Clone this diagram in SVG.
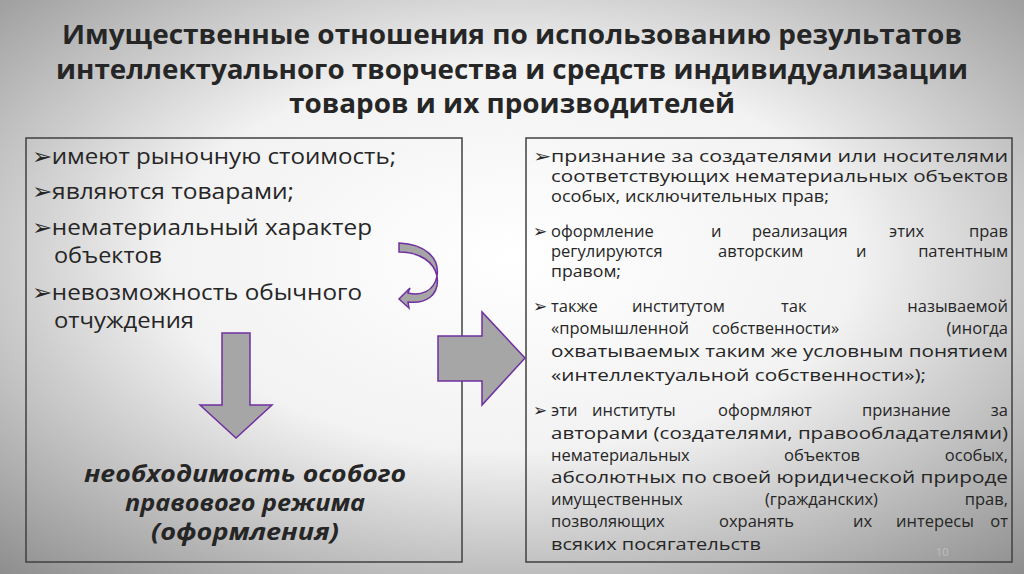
<svg xmlns="http://www.w3.org/2000/svg" width="1024" height="574" viewBox="0 0 1024 574">
<defs>
<radialGradient id="bg" cx="0.5" cy="0.45" r="0.75">
<stop offset="0" stop-color="#ffffff"/><stop offset="0.45" stop-color="#f2f2f2"/><stop offset="1" stop-color="#8c8c8c"/>
</radialGradient>
</defs>
<style>
.t{font-family:"Open Sans","Liberation Sans",sans-serif;font-weight:bold;font-size:27px;fill:#262626;text-anchor:middle}
.l{font-family:"Open Sans","Liberation Sans",sans-serif;font-size:22px;fill:#262626}
.r{font-family:"Open Sans","Liberation Sans",sans-serif;font-size:16.5px;fill:#262626}
.e{text-anchor:end}
.box{fill:none;stroke:#404040;stroke-width:1.5}
.ar{fill:#a6a6a6;stroke:#7030a0;stroke-width:1.5;stroke-linejoin:miter}
.b{font-family:"Open Sans","Liberation Sans",sans-serif;font-size:24px;font-weight:bold;font-style:italic;fill:#262626;text-anchor:middle}
</style>
<rect width="1024" height="574" fill="url(#bg)"/>
<g id="title">
<text class="t" x="512" y="44" textLength="900" lengthAdjust="spacingAndGlyphs">Имущественные отношения по  использованию результатов</text>
<text class="t" x="512" y="79" textLength="912" lengthAdjust="spacingAndGlyphs">интеллектуального творчества и средств индивидуализации</text>
<text class="t" x="512" y="113" textLength="446" lengthAdjust="spacingAndGlyphs">товаров и их производителей</text>
</g>
<g id="left">
<rect class="box" x="26" y="138" width="436" height="424"/>
<text class="l" x="32" y="164" textLength="364" lengthAdjust="spacingAndGlyphs">➢имеют рыночную стоимость;</text>
<text class="l" x="32" y="199" textLength="262" lengthAdjust="spacingAndGlyphs">➢являются товарами;</text>
<text class="l" x="32" y="235" textLength="340" lengthAdjust="spacingAndGlyphs">➢нематериальный характер</text>
<text class="l" x="54" y="263" textLength="108" lengthAdjust="spacingAndGlyphs">объектов</text>
<text class="l" x="32" y="300" textLength="330" lengthAdjust="spacingAndGlyphs">➢невозможность обычного</text>
<text class="l" x="54" y="328" textLength="140" lengthAdjust="spacingAndGlyphs">отчуждения</text>
<text class="b" x="245" y="482" textLength="322" lengthAdjust="spacingAndGlyphs">необходимость особого</text>
<text class="b" x="245" y="511" textLength="240" lengthAdjust="spacingAndGlyphs">правового режима</text>
<text class="b" x="245" y="540" textLength="188" lengthAdjust="spacingAndGlyphs">(оформления)</text>
</g>
<g id="right">
<rect class="box" x="526" y="138" width="486" height="424"/>
<text class="r" x="533" y="162" textLength="475" lengthAdjust="spacingAndGlyphs">➢признание за создателями или носителями</text>
<text class="r" x="551" y="182" textLength="457" lengthAdjust="spacingAndGlyphs">соответствующих нематериальных объектов</text>
<text class="r" x="551" y="202" textLength="278" lengthAdjust="spacingAndGlyphs">особых, исключительных прав;</text>
<text class="r" y="237"><tspan x="533">➢</tspan><tspan x="551">оформление</tspan><tspan x="711">и</tspan><tspan x="752">реализация</tspan><tspan x="889">этих</tspan><tspan x="1008" class="e">прав</tspan></text>
<text class="r" y="257"><tspan x="551">регулируются</tspan><tspan x="718">авторским</tspan><tspan x="856">и</tspan><tspan x="1008" class="e">патентным</tspan></text>
<text class="r" x="551" y="277" textLength="70" lengthAdjust="spacingAndGlyphs">правом;</text>
<text class="r" y="312"><tspan x="533">➢</tspan><tspan x="551">также</tspan><tspan x="632">институтом</tspan><tspan x="781">так</tspan><tspan x="1008" class="e">называемой</tspan></text>
<text class="r" y="334"><tspan x="551">«промышленной</tspan><tspan x="712">собственности»</tspan><tspan x="1008" class="e">(иногда</tspan></text>
<text class="r" x="551" y="357" textLength="457" lengthAdjust="spacingAndGlyphs">охватываемых таким же условным понятием</text>
<text class="r" x="551" y="381" textLength="375" lengthAdjust="spacingAndGlyphs">«интеллектуальной собственности»);</text>
<text class="r" y="416"><tspan x="533">➢</tspan><tspan x="551">эти</tspan><tspan x="592">институты</tspan><tspan x="718">оформляют</tspan><tspan x="862">признание</tspan><tspan x="1008" class="e">за</tspan></text>
<text class="r" x="551" y="439" textLength="457" lengthAdjust="spacingAndGlyphs">авторами (создателями, правообладателями)</text>
<text class="r" y="461"><tspan x="551">нематериальных</tspan><tspan x="784">объектов</tspan><tspan x="1008" class="e">особых,</tspan></text>
<text class="r" x="551" y="483" textLength="457" lengthAdjust="spacingAndGlyphs">абсолютных по своей юридической природе</text>
<text class="r" y="505"><tspan x="551">имущественных</tspan><tspan x="765">(гражданских)</tspan><tspan x="1008" class="e">прав,</tspan></text>
<text class="r" y="527"><tspan x="551">позволяющих</tspan><tspan x="719">охранять</tspan><tspan x="853">их</tspan><tspan x="896">интересы</tspan><tspan x="1008" class="e">от</tspan></text>
<text class="r" x="551" y="550" textLength="210" lengthAdjust="spacingAndGlyphs">всяких посягательств</text>
<text x="936" y="556" font-family="Open Sans,Liberation Sans,sans-serif" font-size="11" fill="#bfbfbf">10</text>
</g>
<g id="connectors">
<path class="ar" d="M222,333 H250 V405 H272 L236,438 L200,405 H222 Z"/>
<path class="ar" d="M438,336 H482 V312 L525,358 L482,405 V381 H438 Z"/>
<path class="ar" d="M399,243 C425,244 440,258 437,276 C434,292 420,296 408,293 L410,288 L399,299 L409,308 L408,302 C425,304 440,296 437,276 C434,262 420,252 399,252 Z"/>
</g>
</svg>
